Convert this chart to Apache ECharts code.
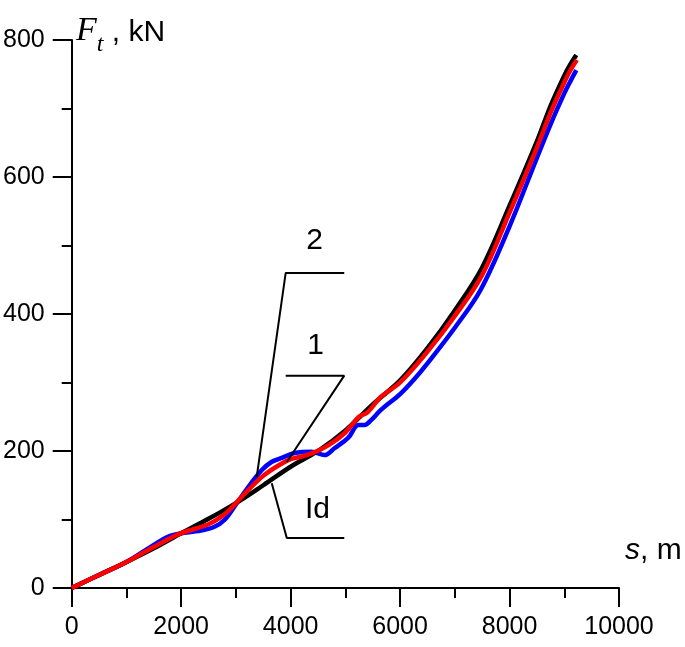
<!DOCTYPE html>
<html>
<head>
<meta charset="utf-8">
<script src="https://cdn.jsdelivr.net/npm/echarts@6/dist/echarts.min.js"></script>
<style>
html,body{margin:0;padding:0;background:#fff;}
#c{width:685px;height:647px;}
</style>
</head>
<body>
<div id="c"></div>
<script>
// Curve Id (ideal) - black
const idealS = [0,500,1000,1500,2000,2500,3000,3500,4000,4500,5000,5500,6000,6500,7000,7500,8000,8500,8750,9000,9100,9220];
const idealF = [0,19,38,58,80,101,124,150,177,200,230,268,303,350,405,468,558,652,704,748,763,778];
// Curve 1 - red
const c1S = [0,500,1000,1500,2000,2500,2800,3000,3250,3500,3800,4000,4200,4400,4700,5000,5250,5400,5650,6000,6500,7000,7500,8000,8500,8750,9000,9100,9230];
const c1F = [0,19,38,60,80,93,108,124,145,164,180,188,192,197,209,227,250,256,279,300,345,397,457,548,643,694,738,754,771];
// Curve 2 - blue
const c2S = [0,500,1000,1500,1800,2000,2300,2600,2800,3000,3250,3470,3650,3840,4070,4380,4620,4800,5050,5240,5350,5470,5650,6000,6250,6500,7000,7470,8000,8500,8750,9000,9100,9220];
const c2F = [0,19,38,63,76,80,83,89,100,122,150,172,184,190,197,199,194,204,219,238,238,245,260,283,304,328,380,435,528,628,677,722,738,756];
// Leader lines
const lead2S = [4980,3910,3380]; const lead2F = [460,460,162];
const lead1S = [3910,4980,3930]; const lead1F = [310,310,184];
const leadIdS = [4980,3930,3655]; const leadIdF = [73,73,153];
// Curve labels
const labelText = ['2','1','Id'];
const labelS = [4436,4455,4491];
const labelF = [507,353,114];
// Axis ticks
const xTicks = [0,2000,4000,6000,8000,10000];
const yTicks = [0,200,400,600,800];

const zip = (a,b)=>a.map((v,i)=>[v,b[i]]);
const chart = echarts.init(document.getElementById('c'));
const FONT = '"Liberation Sans", Arial, sans-serif';
const SERIF = '"Liberation Serif", "DejaVu Serif", serif';
const curveBase = {type:'line', showSymbol:false, symbol:'none', smooth:0.35, z:3};
chart.setOption({
  animation:false,
  backgroundColor:'#fff',
  grid:{left:69, right:66, top:40, bottom:59, containLabel:false},
  xAxis:{type:'value', min:xTicks[0], max:xTicks[xTicks.length-1], interval:2000,
    axisLine:{show:true, onZero:false, lineStyle:{color:'#000', width:2}},
    axisTick:{show:true, inside:false, length:19, lineStyle:{color:'#000', width:2}},
    minorTick:{show:true, splitNumber:2, length:10, lineStyle:{color:'#000', width:2}},
    splitLine:{show:false},
    axisLabel:{color:'#000', fontSize:25, fontFamily:FONT, margin:27, formatter:v=>String(v)}},
  yAxis:{type:'value', min:yTicks[0], max:yTicks[yTicks.length-1], interval:200,
    axisLine:{show:true, onZero:false, lineStyle:{color:'#000', width:2}},
    axisTick:{show:true, inside:false, length:19, lineStyle:{color:'#000', width:2}},
    minorTick:{show:true, splitNumber:2, length:10, lineStyle:{color:'#000', width:2}},
    splitLine:{show:false},
    axisLabel:{color:'#000', fontSize:25, fontFamily:FONT, margin:27, formatter:v=>String(v)}},
  series:[
    Object.assign({}, curveBase, {name:'2', data:zip(c2S,c2F), lineStyle:{color:'#0000ff', width:4.5}}),
    Object.assign({}, curveBase, {name:'Id', data:zip(idealS,idealF), lineStyle:{color:'#000', width:4.5}}),
    Object.assign({}, curveBase, {name:'1', data:zip(c1S,c1F), lineStyle:{color:'#ff0000', width:4.5}}),
    {type:'line', symbol:'none', data:zip(lead2S,lead2F), lineStyle:{color:'#000', width:2}, z:4},
    {type:'line', symbol:'none', data:zip(lead1S,lead1F), lineStyle:{color:'#000', width:2}, z:4},
    {type:'line', symbol:'none', data:zip(leadIdS,leadIdF), lineStyle:{color:'#000', width:2}, z:4},
    {type:'scatter', symbolSize:0, z:5, itemStyle:{opacity:1},
      data:labelText.map((t,i)=>({name:t, value:[labelS[i],labelF[i]]})),
      label:{show:true, position:'inside', formatter:p=>p.name, color:'#000', opacity:1, fontSize:30, fontFamily:FONT}}
  ],
  graphic:[
    {type:'text', left:76, top:14, z:10, style:{
      text:'{f|F}{t|t}{c| , }{n|kN}',
      rich:{
        f:{fontFamily:SERIF, fontStyle:'italic', fontSize:34, fill:'#000', verticalAlign:'bottom'},
        t:{fontFamily:SERIF, fontStyle:'italic', fontSize:24, fill:'#000', padding:[0,0,-9,0], verticalAlign:'bottom'},
        c:{fontFamily:FONT, fontSize:30, fill:'#000', verticalAlign:'bottom'},
        n:{fontFamily:FONT, fontSize:30, fill:'#000', verticalAlign:'bottom'}
      }}},
    {type:'text', left:625, top:536, z:10, style:{
      text:'{s|s}{n|, m}',
      rich:{
        s:{fontFamily:FONT, fontStyle:'italic', fontSize:30, fill:'#000'},
        n:{fontFamily:FONT, fontSize:30, fill:'#000'}
      }}}
  ]
});
</script>
</body>
</html>
